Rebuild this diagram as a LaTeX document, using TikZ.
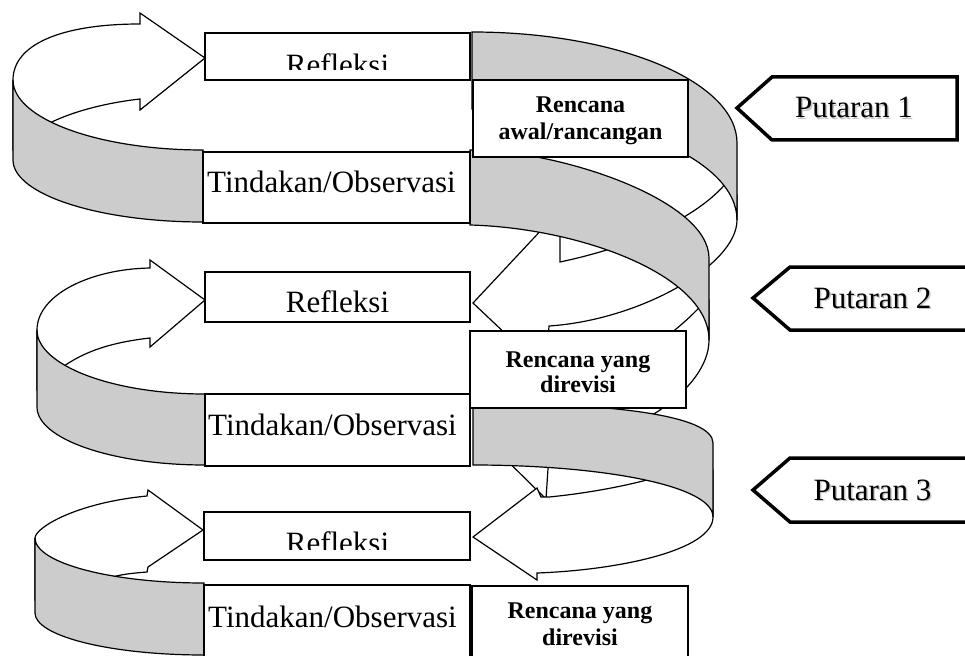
\documentclass[tikz,border=0pt]{standalone}
\usepackage{fontspec}
\setmainfont{Liberation Serif}
\definecolor{bandgray}{RGB}{204,204,204}
\begin{document}
\begin{tikzpicture}[x=1pt,y=-1pt,
  line join=miter,
  ribbon/.style={draw=black, line width=1.2pt, fill=bandgray},
  arrowface/.style={draw=black, line width=1.2pt, fill=white},
  box/.style={draw=black, line width=1.2pt, fill=white, rectangle,
    inner sep=0pt, outer sep=0pt, anchor=north west},
  planbox/.style={box, line width=2pt},
  lbl/.style={font=\fontsize{31}{36}\selectfont, inner sep=0pt, anchor=base},
  lblw/.style={lbl, anchor=base west},
  planlbl/.style={font=\bfseries\fontsize{24}{27}\selectfont, inner sep=0pt, anchor=base},
  tag/.style={draw=black, line width=3.5pt, fill=white},
  shadowlbl/.style={lbl, text=black!22},
]
\useasboundingbox (0,0) rectangle (965,655);
\clip (0,0) rectangle (965,655);
\fill[white] (0,0) rectangle (965,655);

% ---------- left loops: Tindakan/Observasi -> Refleksi ----------
% loop 1
\draw[arrowface] (13,100) -- (13,80) .. controls (13,45) and (60,24) .. (140,24)
  -- (140,13) -- (205,58) -- (140,110) -- (140,99)
  .. controls (105,103) and (70,112) .. (46,125) -- (40,150) -- (13,150) -- cycle;
\draw[ribbon] (13,80) .. controls (13,118.7) and (98,150) .. (203,150) -- (203,222)
  .. controls (98,222) and (13,194.2) .. (13,160) -- cycle;

% loop 2
\draw[arrowface] (37,350) -- (37,330) .. controls (37,295) and (90,269) .. (150,268)
  -- (150,260) -- (205,300) -- (150,347) -- (150,338)
  .. controls (115,342) and (85,350) .. (60,369) -- (60,390) -- (37,390) -- cycle;
\draw[ribbon] (37,330) .. controls (37,365.3) and (112.2,394) .. (205,394) -- (205,465)
  .. controls (112.2,465) and (37,439) .. (37,407) -- cycle;

% loop 3
\draw[arrowface] (35,560) -- (35,538) .. controls (35,528) and (75,503) .. (147,496)
  -- (148,490) -- (203,530) -- (148,567) -- (147,572)
  .. controls (135,573) and (120,574) .. (106,579) -- (100,600) -- (35,600) -- cycle;
\draw[ribbon] (35,538) .. controls (35,562.9) and (110.7,583) .. (204,583) -- (204,655)
  .. controls (110.7,655) and (35,636.2) .. (35,613) -- cycle;

% ---------- right loops: Refleksi -> Rencana ----------
% front faces of the curved arrows
\draw[arrowface] (727,182) .. controls (700,215) and (640,245) .. (560,262)
  -- (560,210) -- (473,303) -- (546,372) -- (549,326)
  .. controls (640,320) and (737,265) .. (737,220) -- (737,195) -- cycle;
\draw[arrowface] (706,300) .. controls (685,325) and (630,372) .. (560,389)
  -- (560,337) -- (476,430) -- (546,499) -- (549,453)
  .. controls (630,440) and (709,390) .. (709,340) -- (709,300) -- cycle;
\draw[arrowface] (713,517) .. controls (713,550) and (620,570) .. (537,573)
  -- (537,580) -- (473,537) -- (537,488) -- (541,497) -- (549,497)
  .. controls (600,492) and (660,480) .. (700,462) -- (713,470) -- cycle;

% shaded backs of the ribbons
\draw[ribbon] (472,32) .. controls (618.4,32) and (737,81.7) .. (737,143) -- (737,220)
  .. controls (737,158.7) and (618.4,109) .. (472,109) -- cycle;
\draw[ribbon] (470,150) .. controls (560,150) and (709,200) .. (709,258) -- (709,340)
  .. controls (709,275) and (580,228) .. (470,225) -- cycle;
\draw[ribbon] (473,403) .. controls (610,403) and (713,415) .. (713,443) -- (713,517)
  .. controls (713,485) and (600,465) .. (473,465) -- cycle;

% ---------- step boxes ----------
\node[box, minimum width=265pt, minimum height=47pt] (refl1) at (205,33) {};
\node[box, minimum width=267pt, minimum height=71pt] (tind1) at (203,152) {};
\node[box, minimum width=265pt, minimum height=50pt] (refl2) at (205,272) {};
\node[box, minimum width=265pt, minimum height=72pt] (tind2) at (205,394) {};
\node[box, minimum width=266pt, minimum height=48pt] (refl3) at (204,512) {};
\node[box, minimum width=266pt, minimum height=80pt] (tind3) at (204,585) {};
\node[planbox, minimum width=215pt, minimum height=77pt] (plan1) at (473,80) {};
\node[planbox, minimum width=216pt, minimum height=77pt] (plan2) at (470,331) {};
\node[planbox, minimum width=216pt, minimum height=80pt] (plan3) at (472,586) {};

% box texts
\begin{scope}
  \clip (205,33) rectangle (470,70);
  \node[lbl] (refl1-t) at (337.5,76) {Refleksi};
\end{scope}
\node[lbl] (refl2-t) at (337.5,312) {Refleksi};
\begin{scope}
  \clip (204,512) rectangle (470,549);
  \node[lbl] (refl3-t) at (337.5,553) {Refleksi};
\end{scope}
\node[lblw] (tind1-t) at (207,193) {Tindakan/Observasi};
\node[lblw] (tind2-t) at (208,435) {Tindakan/Observasi};
\node[lblw] (tind3-t) at (208,627) {Tindakan/Observasi};

\node[planlbl] (plan1-a) at (580.5,113) {Rencana};
\node[planlbl] (plan1-b) at (580.5,140) {awal/rancangan};
\node[planlbl] (plan2-a) at (578,367) {Rencana yang};
\node[planlbl] (plan2-b) at (578,392) {direvisi};
\node[planlbl] (plan3-a) at (580,618) {Rencana yang};
\node[planlbl] (plan3-b) at (580,645) {direvisi};

% ---------- cycle tags ----------
\draw[tag] (737,108) -- (772,77) -- (957,77) -- (957,140) -- (772,140) -- cycle;
\draw[tag] (753,298) -- (790,267) -- (975,267) -- (975,330) -- (790,330) -- cycle;
\draw[tag] (753,490) -- (790,458) -- (975,458) -- (975,522) -- (790,522) -- cycle;

\node[shadowlbl] (put1s) at (855.5,119.5) {Putaran 1};
\node[lbl] (put1) at (854,118) {Putaran 1};
\node[shadowlbl] (put2s) at (874,309.5) {Putaran 2};
\node[lbl] (put2) at (872.5,308) {Putaran 2};
\node[shadowlbl] (put3s) at (874,501.5) {Putaran 3};
\node[lbl] (put3) at (872.5,500) {Putaran 3};
\end{tikzpicture}
\end{document}
